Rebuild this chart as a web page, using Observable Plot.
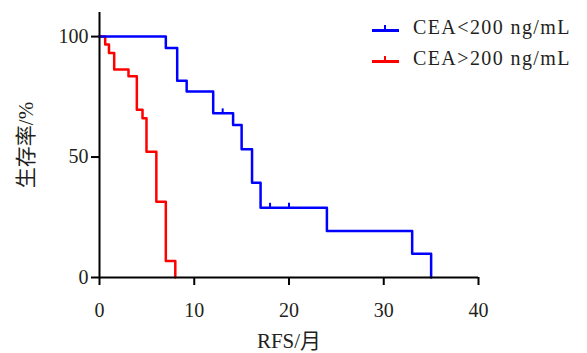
<!DOCTYPE html>
<html><head><meta charset="utf-8">
<script src="https://cdn.jsdelivr.net/npm/d3@7"></script>
<script src="https://cdn.jsdelivr.net/npm/@observablehq/plot@0.6"></script>
<style>
body{margin:0;background:#fff;}
#wrap{position:relative;width:587px;height:353px;}
#wrap svg, #wrap svg g, #wrap svg text{font-family:"Liberation Serif","Noto Sans CJK SC",serif !important;}
#wrap svg text{font-size:20px;fill:#231f20;}
#wrap svg g[aria-label="x-axis label"] text,#wrap svg g[aria-label="y-axis label"] text{font-size:21px;}
.lt{position:absolute;left:413px;line-height:20px;font-family:"Liberation Serif","DejaVu Serif",serif;font-size:20px;letter-spacing:1.4px;color:#231f20;white-space:nowrap;}
.sw{position:absolute;left:372px;width:27px;height:3px;}
.sw i{position:absolute;left:12px;top:-4px;width:2px;height:5px;}
</style></head>
<body><div id="wrap"></div>
<script>
const seriesNames = ["CEA<200 ng/mL", "CEA>200 ng/mL"];
const seriesColors = ["#0000ff", "#ff0000"];
const blueTime = [0, 7, 8.2, 9.2, 12, 14.1, 15, 16.1, 17, 24, 33, 35];
const blueSurv = [100, 95.3, 81.7, 77.2, 68.2, 63.3, 53.2, 39.3, 29, 19.3, 9.9, 0];
const blueCensorTime = [13, 18, 20];
const blueCensorSurv = [68.2, 29, 29];
const redTime = [0, 0.6, 1.0, 1.55, 3.06, 3.94, 4.54, 4.96, 6.0, 7.0, 8.0];
const redSurv = [100, 96.7, 93.2, 86.3, 83.5, 69.6, 66.1, 52.2, 31.4, 6.8, 0];
const xTicks = [0, 10, 20, 30, 40];
const yTicks = [0, 50, 100];

const blue = blueTime.map((t, i) => ({t, s: blueSurv[i], g: seriesNames[0]}));
const red = redTime.map((t, i) => ({t, s: redSurv[i], g: seriesNames[1]}));
const censor = blueCensorTime.map((t, i) => ({t, s: blueCensorSurv[i]}));

const chart = Plot.plot({
  width: 587, height: 353,
  marginLeft: 99, marginRight: 109, marginTop: 12, marginBottom: 76,
  style: {fontFamily: '"Liberation Serif","Noto Sans CJK SC",serif', fontSize: "20px", color: "#231f20", background: "#fff"},
  x: {domain: [0, 40]},
  y: {domain: [0, 110]},
  marks: [
    Plot.axisX({ticks: xTicks, tickSize: 8, tickPadding: 17, strokeWidth: 2, stroke: "#000",
      label: "RFS/月", labelAnchor: "center", labelArrow: "none", labelOffset: 70}),
    Plot.axisY({ticks: yTicks, tickSize: 8, tickPadding: 3, strokeWidth: 2, stroke: "#000",
      label: "生存率/%", labelAnchor: "center", labelArrow: "none", labelOffset: 81}),
    Plot.line(red, {x: "t", y: "s", curve: "step-after", stroke: seriesColors[1], strokeWidth: 2.5}),
    Plot.line(blue, {x: "t", y: "s", curve: "step-after", stroke: seriesColors[0], strokeWidth: 2.5}),
    Plot.ruleX(censor, {x: "t", y1: "s", y2: d => d.s + 1.8, stroke: seriesColors[0], strokeWidth: 2}),
    Plot.ruleX([0], {stroke: "#000", strokeWidth: 2}),
    Plot.ruleY([0], {stroke: "#000", strokeWidth: 2})
  ]
});
const wrap = document.getElementById("wrap");
wrap.appendChild(chart);
const textTops = [16.5, 47.5];
const lineTops = [29.2, 60.2];
seriesNames.forEach((n, i) => {
  const s = document.createElement("span");
  s.className = "sw";
  s.style.top = lineTops[i] + "px";
  s.style.background = seriesColors[i];
  s.innerHTML = `<i style="background:${seriesColors[i]}"></i>`;
  wrap.appendChild(s);
  const d = document.createElement("div");
  d.className = "lt";
  d.style.top = textTops[i] + "px";
  d.textContent = n;
  wrap.appendChild(d);
});
</script>
</body></html>
